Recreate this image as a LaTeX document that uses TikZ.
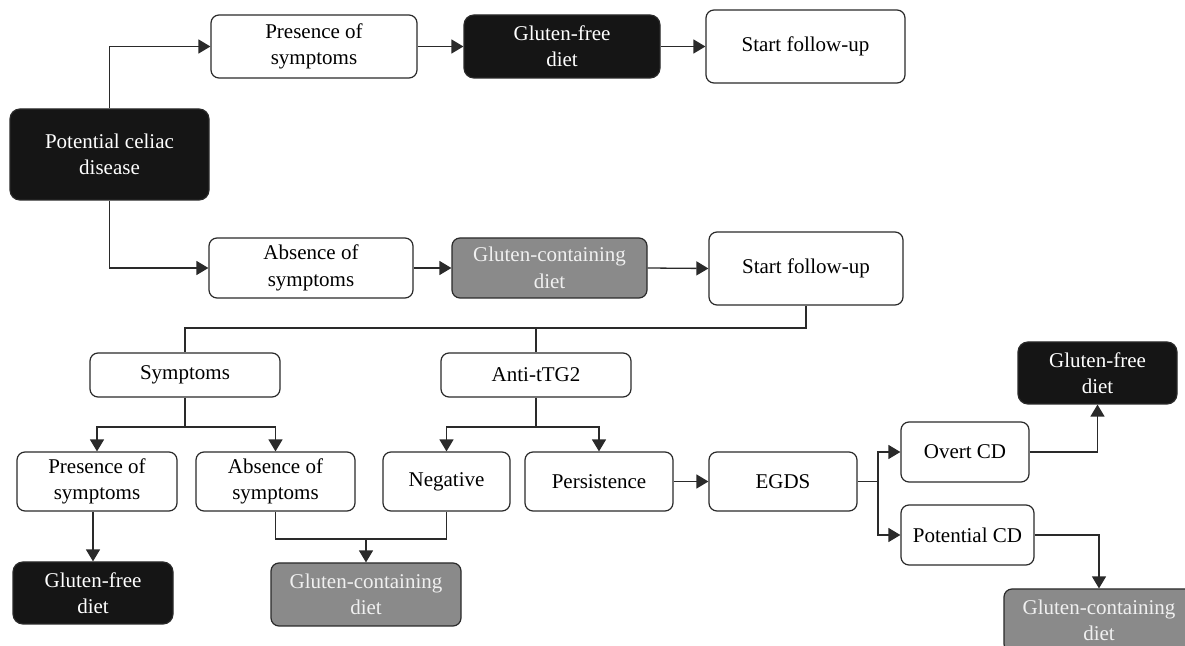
\documentclass[tikz,border=0pt]{standalone}
\usepackage{fontspec}
\setmainfont{Liberation Serif}
\usetikzlibrary{arrows.meta}
\definecolor{boxblack}{HTML}{151515}
\definecolor{boxgray}{HTML}{8A8A8A}
\definecolor{linecol}{HTML}{2A2A2A}
\begin{document}
\begin{tikzpicture}[x=0.5pt,y=-0.5pt,
  base/.style={draw=linecol, line width=0.6pt, rounded corners=4pt, align=center,
    inner sep=0pt, font=\fontsize{10.5}{13.2}\selectfont},
  wbox/.style={base, fill=white, text=black},
  bbox/.style={base, fill=boxblack, text=white, rounded corners=5pt},
  gbox/.style={base, fill=boxgray, text=white!94!black},
  arr/.style={draw=linecol, line width=0.65pt, -{Triangle[length=6pt,width=7pt]}},
  ln/.style={draw=linecol, line width=0.65pt}]
\useasboundingbox (0,0) rectangle (1185,646);
\clip (0,0) rectangle (1185,646);
% nodes
\node[bbox, minimum width=99.5pt, minimum height=45.5pt] (pcd) at (109.5,154.5) {Potential celiac\\disease};
\node[wbox, minimum width=103pt, minimum height=31.5pt] (pres1) at (314,46.5) {Presence of\\symptoms};
\node[bbox, minimum width=98pt, minimum height=31.5pt] (gfd1) at (562,46.5) {Gluten-free\\diet};
\node[wbox, minimum width=99.5pt, minimum height=36.5pt] (sfu1) at (805.5,46.5) {Start follow-up};
\node[wbox, minimum width=102pt, minimum height=30pt] (abs1) at (311,268) {Absence of\\symptoms};
\node[gbox, minimum width=97.5pt, minimum height=30pt] (gcd1) at (549.5,268) {Gluten-containing\\diet};
\node[wbox, minimum width=97pt, minimum height=36.5pt] (sfu2) at (806,268.5) {Start follow-up};
\node[wbox, minimum width=95pt, minimum height=22pt] (symp) at (185,375) {Symptoms};
\node[wbox, minimum width=95pt, minimum height=22pt] (anti) at (536,375) {Anti-tTG2};
\node[wbox, minimum width=80pt, minimum height=29.5pt] (pres2) at (97,481.5) {Presence of\\symptoms};
\node[wbox, minimum width=79.5pt, minimum height=29.5pt] (abs2) at (275.5,481.5) {Absence of\\symptoms};
\node[wbox, minimum width=63.5pt, minimum height=29.5pt] (neg) at (446.5,481.5) {Negative};
\node[wbox, minimum width=74pt, minimum height=29.5pt] (pers) at (599,481.5) {Persistence};
\node[wbox, minimum width=74pt, minimum height=29.5pt] (egds) at (783,481.5) {EGDS};
\node[wbox, minimum width=64pt, minimum height=30pt] (overt) at (965,452) {Overt CD};
\node[wbox, minimum width=66.5pt, minimum height=30pt] (potcd) at (967.5,535) {Potential CD};
\node[bbox, minimum width=79.5pt, minimum height=31pt] (gfd3) at (1097.5,373) {Gluten-free\\diet};
\node[bbox, minimum width=80pt, minimum height=31pt] (gfd2) at (93,593) {Gluten-free\\diet};
\node[gbox, minimum width=95pt, minimum height=31.5pt] (gcd2) at (366,594.5) {Gluten-containing\\diet};
\node[gbox, minimum width=95pt, minimum height=31.5pt] (gcd3) at (1099,620.5) {Gluten-containing\\diet};
% helper coordinates
\coordinate (bus1) at (0,328);
\coordinate (bus2) at (0,427);
\coordinate (bus3) at (0,539);
\coordinate (sp) at (878,0);
% connectors
\draw[arr] (pcd.north) |- (pres1.west);
\draw[arr] (pcd.south) |- (abs1.west);
\draw[arr] (pres1.east) -- (gfd1.west);
\draw[arr] (gfd1.east) -- (sfu1.west);
\draw[arr] (abs1.east) -- (gcd1.west);
\draw[arr] (gcd1.east) -- (sfu2.west);
\draw[ln] (sfu2.south) |- (bus1 -| symp.north) -- (symp.north);
\draw[ln] (bus1 -| anti.north) -- (anti.north);
\draw[arr] (symp.south) -- (symp.south |- bus2) -| (pres2.north);
\draw[arr] (symp.south |- bus2) -| (abs2.north);
\draw[arr] (anti.south) -- (anti.south |- bus2) -| (neg.north);
\draw[arr] (anti.south |- bus2) -| (pers.north);
\draw[arr] (pres2.south -| gfd2.north) -- (gfd2.north);
\draw[ln] (abs2.south) |- (bus3 -| neg.south) -- (neg.south);
\draw[arr] (bus3 -| gcd2.north) -- (gcd2.north);
\draw[arr] (pers.east) -- (egds.west);
\draw[ln] (egds.east) -- (egds.east -| sp);
\draw[arr] (egds.east -| sp) |- (overt.west);
\draw[arr] (egds.east -| sp) |- (potcd.west);
\draw[arr] (overt.east) -| (gfd3.south);
\draw[arr] (potcd.east) -| (gcd3.north);
\end{tikzpicture}
\end{document}
